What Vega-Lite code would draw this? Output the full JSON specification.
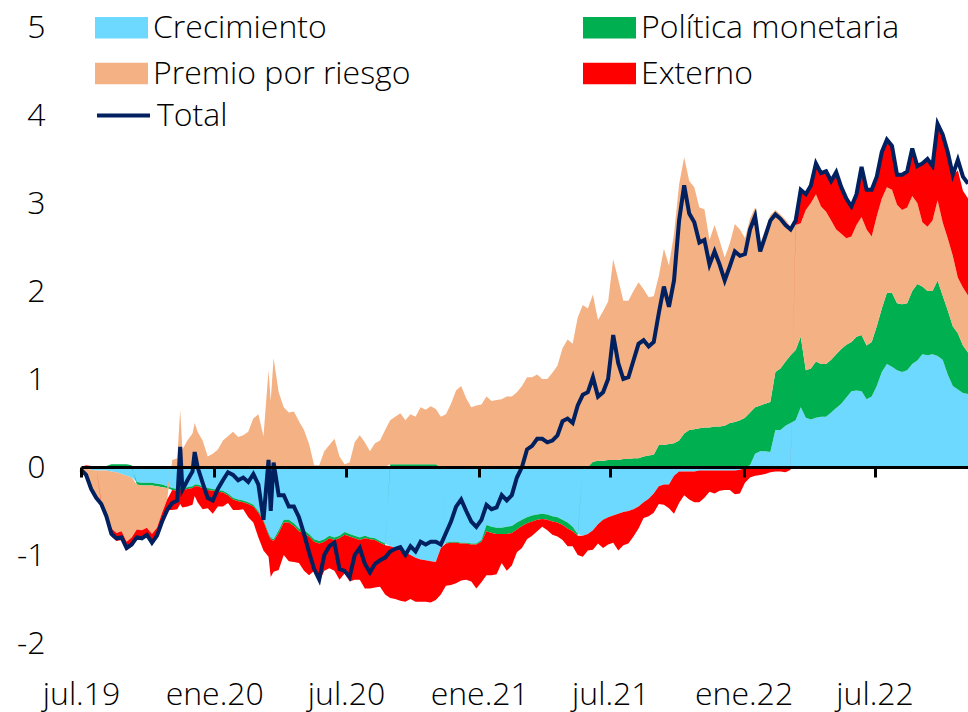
{
  "$schema": "https://vega.github.io/schema/vega-lite/v6.json",
  "width": 887,
  "height": 616,
  "autosize": {"type": "none"},
  "padding": {"left": 81, "top": 27, "right": 0, "bottom": 69},
  "background": "white",
  "config": {"view": {"stroke": null}, "font": "Open Sans"},
  "data": {"values": [
    {"d":"2019-07-01","C":0,"P":0,"R":-0.03,"E":0,"T":-0.03},
    {"d":"2019-07-08","C":-0.02,"P":0,"R":-0.09,"E":0.02,"T":-0.09},
    {"d":"2019-07-15","C":-0.03,"P":0,"R":-0.23,"E":0.01,"T":-0.25},
    {"d":"2019-07-22","C":-0.04,"P":0,"R":-0.31,"E":0,"T":-0.35},
    {"d":"2019-07-29","C":-0.04,"P":0,"R":-0.36,"E":-0.02,"T":-0.42},
    {"d":"2019-08-05","C":-0.04,"P":0.01,"R":-0.47,"E":-0.06,"T":-0.56},
    {"d":"2019-08-12","C":-0.05,"P":0.03,"R":-0.65,"E":-0.09,"T":-0.76},
    {"d":"2019-08-19","C":-0.06,"P":0.03,"R":-0.69,"E":-0.09,"T":-0.81},
    {"d":"2019-08-26","C":-0.08,"P":0.03,"R":-0.65,"E":-0.1,"T":-0.8},
    {"d":"2019-09-02","C":-0.1,"P":0.03,"R":-0.75,"E":-0.1,"T":-0.92},
    {"d":"2019-09-09","C":-0.12,"P":0.02,"R":-0.68,"E":-0.1,"T":-0.88},
    {"d":"2019-09-16","C":-0.17,"P":-0.03,"R":-0.51,"E":-0.09,"T":-0.8},
    {"d":"2019-09-23","C":-0.18,"P":-0.03,"R":-0.51,"E":-0.09,"T":-0.81},
    {"d":"2019-09-30","C":-0.18,"P":-0.03,"R":-0.48,"E":-0.08,"T":-0.77},
    {"d":"2019-10-07","C":-0.18,"P":-0.03,"R":-0.55,"E":-0.1,"T":-0.86},
    {"d":"2019-10-14","C":-0.19,"P":-0.03,"R":-0.47,"E":-0.09,"T":-0.78},
    {"d":"2019-10-21","C":-0.2,"P":-0.03,"R":-0.29,"E":-0.1,"T":-0.62},
    {"d":"2019-10-28","C":-0.22,"P":-0.02,"R":-0.13,"E":-0.12,"T":-0.49},
    {"d":"2019-11-04","C":-0.24,"P":-0.02,"R":0.08,"E":-0.23,"T":-0.41},
    {"d":"2019-11-11","C":-0.25,"P":-0.02,"R":0.1,"E":-0.21,"T":-0.38},
    {"d":"2019-11-15","C":-0.24,"P":-0.02,"R":0.65,"E":-0.16,"T":0.23},
    {"d":"2019-11-18","C":-0.24,"P":-0.02,"R":0.2,"E":-0.2,"T":-0.26},
    {"d":"2019-11-25","C":-0.23,"P":-0.02,"R":0.3,"E":-0.2,"T":-0.15},
    {"d":"2019-12-02","C":-0.22,"P":-0.02,"R":0.38,"E":-0.19,"T":-0.05},
    {"d":"2019-12-05","C":-0.2,"P":-0.02,"R":0.5,"E":-0.11,"T":0.17},
    {"d":"2019-12-09","C":-0.2,"P":-0.02,"R":0.4,"E":-0.18,"T":0},
    {"d":"2019-12-16","C":-0.22,"P":-0.02,"R":0.3,"E":-0.24,"T":-0.18},
    {"d":"2019-12-23","C":-0.24,"P":-0.02,"R":0.12,"E":-0.21,"T":-0.35},
    {"d":"2019-12-30","C":-0.25,"P":-0.02,"R":0.15,"E":-0.26,"T":-0.38},
    {"d":"2020-01-06","C":-0.26,"P":-0.02,"R":0.2,"E":-0.17,"T":-0.25},
    {"d":"2020-01-13","C":-0.27,"P":-0.02,"R":0.3,"E":-0.16,"T":-0.15},
    {"d":"2020-01-20","C":-0.3,"P":-0.02,"R":0.35,"E":-0.09,"T":-0.06},
    {"d":"2020-01-27","C":-0.35,"P":-0.02,"R":0.4,"E":-0.12,"T":-0.09},
    {"d":"2020-02-03","C":-0.37,"P":-0.02,"R":0.34,"E":-0.1,"T":-0.15},
    {"d":"2020-02-10","C":-0.38,"P":-0.02,"R":0.36,"E":-0.08,"T":-0.12},
    {"d":"2020-02-17","C":-0.4,"P":-0.02,"R":0.4,"E":-0.15,"T":-0.17},
    {"d":"2020-02-24","C":-0.43,"P":-0.02,"R":0.55,"E":-0.18,"T":-0.08},
    {"d":"2020-03-02","C":-0.5,"P":-0.02,"R":0.6,"E":-0.28,"T":-0.2},
    {"d":"2020-03-09","C":-0.6,"P":-0.02,"R":0.35,"E":-0.33,"T":-0.6},
    {"d":"2020-03-16","C":-0.75,"P":-0.02,"R":1.1,"E":-0.25,"T":0.08},
    {"d":"2020-03-19","C":-0.8,"P":-0.02,"R":0.75,"E":-0.43,"T":-0.5},
    {"d":"2020-03-23","C":-0.82,"P":-0.02,"R":1.24,"E":-0.35,"T":0.05},
    {"d":"2020-03-30","C":-0.72,"P":-0.03,"R":0.85,"E":-0.42,"T":-0.32},
    {"d":"2020-04-06","C":-0.6,"P":-0.03,"R":0.68,"E":-0.37,"T":-0.32},
    {"d":"2020-04-13","C":-0.6,"P":-0.03,"R":0.62,"E":-0.44,"T":-0.45},
    {"d":"2020-04-20","C":-0.64,"P":-0.03,"R":0.63,"E":-0.41,"T":-0.45},
    {"d":"2020-04-27","C":-0.7,"P":-0.03,"R":0.52,"E":-0.36,"T":-0.57},
    {"d":"2020-05-04","C":-0.72,"P":-0.03,"R":0.42,"E":-0.43,"T":-0.76},
    {"d":"2020-05-11","C":-0.76,"P":-0.03,"R":0.26,"E":-0.44,"T":-0.97},
    {"d":"2020-05-18","C":-0.82,"P":-0.03,"R":0.02,"E":-0.33,"T":-1.16},
    {"d":"2020-05-25","C":-0.84,"P":-0.03,"R":0.02,"E":-0.43,"T":-1.28},
    {"d":"2020-06-01","C":-0.82,"P":-0.03,"R":0.18,"E":-0.33,"T":-1},
    {"d":"2020-06-08","C":-0.78,"P":-0.03,"R":0.25,"E":-0.34,"T":-0.9},
    {"d":"2020-06-15","C":-0.8,"P":-0.03,"R":0.32,"E":-0.35,"T":-0.86},
    {"d":"2020-06-22","C":-0.78,"P":-0.03,"R":0.12,"E":-0.47,"T":-1.16},
    {"d":"2020-06-29","C":-0.74,"P":-0.03,"R":0.03,"E":-0.44,"T":-1.18},
    {"d":"2020-07-06","C":-0.76,"P":-0.03,"R":0.05,"E":-0.51,"T":-1.25},
    {"d":"2020-07-13","C":-0.78,"P":-0.03,"R":0.28,"E":-0.47,"T":-1},
    {"d":"2020-07-20","C":-0.8,"P":-0.03,"R":0.36,"E":-0.45,"T":-0.92},
    {"d":"2020-07-27","C":-0.78,"P":-0.03,"R":0.28,"E":-0.57,"T":-1.1},
    {"d":"2020-08-03","C":-0.8,"P":-0.02,"R":0.18,"E":-0.56,"T":-1.2},
    {"d":"2020-08-10","C":-0.81,"P":-0.02,"R":0.27,"E":-0.54,"T":-1.1},
    {"d":"2020-08-17","C":-0.84,"P":-0.02,"R":0.3,"E":-0.5,"T":-1.06},
    {"d":"2020-08-24","C":-0.87,"P":-0.02,"R":0.42,"E":-0.56,"T":-1.03},
    {"d":"2020-08-31","C":-0.9,"P":0.03,"R":0.5,"E":-0.59,"T":-0.96},
    {"d":"2020-09-07","C":-0.92,"P":0.03,"R":0.54,"E":-0.58,"T":-0.93},
    {"d":"2020-09-14","C":-0.95,"P":0.03,"R":0.58,"E":-0.57,"T":-0.91},
    {"d":"2020-09-21","C":-0.97,"P":0.03,"R":0.5,"E":-0.56,"T":-1},
    {"d":"2020-09-28","C":-1,"P":0.03,"R":0.57,"E":-0.5,"T":-0.9},
    {"d":"2020-10-05","C":-1.03,"P":0.03,"R":0.54,"E":-0.5,"T":-0.96},
    {"d":"2020-10-12","C":-1.05,"P":0.03,"R":0.65,"E":-0.48,"T":-0.85},
    {"d":"2020-10-19","C":-1.06,"P":0.03,"R":0.62,"E":-0.47,"T":-0.88},
    {"d":"2020-10-26","C":-1.07,"P":0.03,"R":0.66,"E":-0.47,"T":-0.85},
    {"d":"2020-11-02","C":-1.08,"P":0.03,"R":0.63,"E":-0.43,"T":-0.85},
    {"d":"2020-11-09","C":-0.92,"P":0,"R":0.57,"E":-0.53,"T":-0.88},
    {"d":"2020-11-16","C":-0.86,"P":-0.01,"R":0.6,"E":-0.48,"T":-0.75},
    {"d":"2020-11-23","C":-0.85,"P":-0.01,"R":0.72,"E":-0.48,"T":-0.62},
    {"d":"2020-11-30","C":-0.85,"P":-0.01,"R":0.87,"E":-0.46,"T":-0.45},
    {"d":"2020-12-07","C":-0.86,"P":-0.01,"R":0.92,"E":-0.42,"T":-0.37},
    {"d":"2020-12-14","C":-0.86,"P":-0.01,"R":0.78,"E":-0.41,"T":-0.5},
    {"d":"2020-12-21","C":-0.87,"P":-0.01,"R":0.68,"E":-0.42,"T":-0.62},
    {"d":"2020-12-28","C":-0.87,"P":-0.01,"R":0.7,"E":-0.5,"T":-0.68},
    {"d":"2021-01-04","C":-0.83,"P":-0.02,"R":0.71,"E":-0.46,"T":-0.6},
    {"d":"2021-01-11","C":-0.66,"P":-0.07,"R":0.8,"E":-0.5,"T":-0.43},
    {"d":"2021-01-18","C":-0.68,"P":-0.07,"R":0.75,"E":-0.48,"T":-0.48},
    {"d":"2021-01-25","C":-0.69,"P":-0.07,"R":0.76,"E":-0.46,"T":-0.46},
    {"d":"2021-02-01","C":-0.69,"P":-0.07,"R":0.77,"E":-0.33,"T":-0.32},
    {"d":"2021-02-08","C":-0.68,"P":-0.08,"R":0.8,"E":-0.42,"T":-0.38},
    {"d":"2021-02-15","C":-0.67,"P":-0.08,"R":0.8,"E":-0.37,"T":-0.32},
    {"d":"2021-02-22","C":-0.63,"P":-0.08,"R":0.85,"E":-0.26,"T":-0.12},
    {"d":"2021-03-01","C":-0.6,"P":-0.07,"R":0.92,"E":-0.25,"T":0},
    {"d":"2021-03-08","C":-0.57,"P":-0.07,"R":1.02,"E":-0.18,"T":0.2},
    {"d":"2021-03-15","C":-0.55,"P":-0.07,"R":1.02,"E":-0.16,"T":0.24},
    {"d":"2021-03-22","C":-0.54,"P":-0.06,"R":1.05,"E":-0.13,"T":0.32},
    {"d":"2021-03-29","C":-0.53,"P":-0.06,"R":1,"E":-0.09,"T":0.32},
    {"d":"2021-04-05","C":-0.54,"P":-0.06,"R":1,"E":-0.12,"T":0.28},
    {"d":"2021-04-12","C":-0.56,"P":-0.06,"R":1.07,"E":-0.15,"T":0.3},
    {"d":"2021-04-19","C":-0.57,"P":-0.06,"R":1.15,"E":-0.16,"T":0.36},
    {"d":"2021-04-26","C":-0.6,"P":-0.06,"R":1.35,"E":-0.17,"T":0.52},
    {"d":"2021-05-03","C":-0.63,"P":-0.07,"R":1.45,"E":-0.2,"T":0.55},
    {"d":"2021-05-10","C":-0.68,"P":-0.05,"R":1.4,"E":-0.17,"T":0.5},
    {"d":"2021-05-17","C":-0.76,"P":-0.02,"R":1.7,"E":-0.22,"T":0.7},
    {"d":"2021-05-24","C":-0.78,"P":0,"R":1.84,"E":-0.24,"T":0.82},
    {"d":"2021-05-31","C":-0.76,"P":0,"R":1.8,"E":-0.19,"T":0.85},
    {"d":"2021-06-07","C":-0.72,"P":0.06,"R":1.9,"E":-0.22,"T":1.02},
    {"d":"2021-06-14","C":-0.65,"P":0.07,"R":1.6,"E":-0.22,"T":0.8},
    {"d":"2021-06-21","C":-0.6,"P":0.07,"R":1.7,"E":-0.32,"T":0.85},
    {"d":"2021-06-28","C":-0.57,"P":0.08,"R":1.8,"E":-0.31,"T":1},
    {"d":"2021-07-05","C":-0.55,"P":0.08,"R":2.28,"E":-0.31,"T":1.5},
    {"d":"2021-07-12","C":-0.53,"P":0.08,"R":2.05,"E":-0.42,"T":1.18},
    {"d":"2021-07-19","C":-0.51,"P":0.09,"R":1.8,"E":-0.38,"T":1},
    {"d":"2021-07-26","C":-0.5,"P":0.09,"R":1.8,"E":-0.37,"T":1.02},
    {"d":"2021-08-02","C":-0.48,"P":0.1,"R":1.9,"E":-0.31,"T":1.21},
    {"d":"2021-08-09","C":-0.45,"P":0.1,"R":2,"E":-0.25,"T":1.4},
    {"d":"2021-08-16","C":-0.4,"P":0.12,"R":1.9,"E":-0.18,"T":1.44},
    {"d":"2021-08-23","C":-0.36,"P":0.13,"R":1.8,"E":-0.2,"T":1.37},
    {"d":"2021-08-30","C":-0.3,"P":0.14,"R":1.8,"E":-0.22,"T":1.42},
    {"d":"2021-09-06","C":-0.22,"P":0.25,"R":1.92,"E":-0.2,"T":1.75},
    {"d":"2021-09-13","C":-0.2,"P":0.25,"R":2.23,"E":-0.23,"T":2.05},
    {"d":"2021-09-20","C":-0.2,"P":0.26,"R":2.03,"E":-0.27,"T":1.82},
    {"d":"2021-09-27","C":-0.1,"P":0.27,"R":2.38,"E":-0.43,"T":2.12},
    {"d":"2021-10-04","C":-0.05,"P":0.3,"R":2.91,"E":-0.36,"T":2.8},
    {"d":"2021-10-11","C":-0.05,"P":0.38,"R":3.14,"E":-0.27,"T":3.2},
    {"d":"2021-10-18","C":-0.05,"P":0.42,"R":2.83,"E":-0.32,"T":2.88},
    {"d":"2021-10-25","C":-0.05,"P":0.43,"R":2.75,"E":-0.35,"T":2.78},
    {"d":"2021-11-01","C":-0.04,"P":0.44,"R":2.51,"E":-0.36,"T":2.55},
    {"d":"2021-11-08","C":-0.04,"P":0.45,"R":2.48,"E":-0.31,"T":2.58},
    {"d":"2021-11-15","C":-0.04,"P":0.45,"R":2.13,"E":-0.24,"T":2.3},
    {"d":"2021-11-22","C":-0.04,"P":0.46,"R":2.29,"E":-0.26,"T":2.45},
    {"d":"2021-11-29","C":-0.04,"P":0.46,"R":2.11,"E":-0.23,"T":2.3},
    {"d":"2021-12-06","C":-0.04,"P":0.47,"R":1.91,"E":-0.22,"T":2.12},
    {"d":"2021-12-13","C":-0.04,"P":0.5,"R":2.04,"E":-0.22,"T":2.28},
    {"d":"2021-12-20","C":-0.04,"P":0.51,"R":2.25,"E":-0.27,"T":2.45},
    {"d":"2021-12-27","C":-0.03,"P":0.53,"R":2.17,"E":-0.27,"T":2.4},
    {"d":"2022-01-03","C":-0.01,"P":0.56,"R":2.04,"E":-0.17,"T":2.42},
    {"d":"2022-01-10","C":0.02,"P":0.6,"R":2.2,"E":-0.12,"T":2.7},
    {"d":"2022-01-17","C":0.15,"P":0.53,"R":2.27,"E":-0.1,"T":2.85},
    {"d":"2022-01-24","C":0.18,"P":0.52,"R":1.84,"E":-0.09,"T":2.45},
    {"d":"2022-01-31","C":0.18,"P":0.54,"R":1.98,"E":-0.08,"T":2.62},
    {"d":"2022-02-07","C":0.17,"P":0.57,"R":2.12,"E":-0.06,"T":2.8},
    {"d":"2022-02-14","C":0.42,"P":0.66,"R":1.84,"E":-0.05,"T":2.87},
    {"d":"2022-02-21","C":0.42,"P":0.7,"R":1.75,"E":-0.05,"T":2.82},
    {"d":"2022-02-28","C":0.47,"P":0.73,"R":1.61,"E":-0.06,"T":2.75},
    {"d":"2022-03-07","C":0.5,"P":0.77,"R":1.46,"E":-0.03,"T":2.7},
    {"d":"2022-03-14","C":0.53,"P":0.8,"R":1.42,"E":0.05,"T":2.8},
    {"d":"2022-03-21","C":0.68,"P":0.8,"R":1.29,"E":0.38,"T":3.15},
    {"d":"2022-03-28","C":0.56,"P":0.54,"R":1.82,"E":0.18,"T":3.1},
    {"d":"2022-04-04","C":0.54,"P":0.58,"R":1.88,"E":0.2,"T":3.2},
    {"d":"2022-04-11","C":0.56,"P":0.64,"R":1.9,"E":0.35,"T":3.45},
    {"d":"2022-04-18","C":0.57,"P":0.6,"R":1.79,"E":0.38,"T":3.34},
    {"d":"2022-04-25","C":0.57,"P":0.6,"R":1.73,"E":0.46,"T":3.36},
    {"d":"2022-05-02","C":0.62,"P":0.6,"R":1.58,"E":0.45,"T":3.25},
    {"d":"2022-05-09","C":0.67,"P":0.61,"R":1.42,"E":0.65,"T":3.35},
    {"d":"2022-05-16","C":0.72,"P":0.62,"R":1.31,"E":0.53,"T":3.18},
    {"d":"2022-05-23","C":0.79,"P":0.6,"R":1.21,"E":0.45,"T":3.05},
    {"d":"2022-05-30","C":0.86,"P":0.56,"R":1.2,"E":0.34,"T":2.96},
    {"d":"2022-06-06","C":0.87,"P":0.61,"R":1.27,"E":0.35,"T":3.1},
    {"d":"2022-06-13","C":0.86,"P":0.64,"R":1.34,"E":0.57,"T":3.41},
    {"d":"2022-06-20","C":0.77,"P":0.61,"R":1.32,"E":0.45,"T":3.15},
    {"d":"2022-06-27","C":0.8,"P":0.62,"R":1.2,"E":0.53,"T":3.15},
    {"d":"2022-07-04","C":0.92,"P":0.68,"R":1.25,"E":0.45,"T":3.3},
    {"d":"2022-07-11","C":1.08,"P":0.72,"R":1.25,"E":0.53,"T":3.58},
    {"d":"2022-07-18","C":1.17,"P":0.81,"R":1.2,"E":0.54,"T":3.72},
    {"d":"2022-07-25","C":1.14,"P":0.84,"R":1.17,"E":0.5,"T":3.65},
    {"d":"2022-08-01","C":1.1,"P":0.76,"R":1.12,"E":0.34,"T":3.32},
    {"d":"2022-08-08","C":1.08,"P":0.77,"R":1.07,"E":0.4,"T":3.32},
    {"d":"2022-08-15","C":1.1,"P":0.76,"R":1.09,"E":0.41,"T":3.36},
    {"d":"2022-08-22","C":1.17,"P":0.83,"R":1.08,"E":0.54,"T":3.62},
    {"d":"2022-08-29","C":1.21,"P":0.87,"R":0.92,"E":0.42,"T":3.42},
    {"d":"2022-09-05","C":1.28,"P":0.77,"R":0.73,"E":0.67,"T":3.45},
    {"d":"2022-09-12","C":1.27,"P":0.73,"R":0.73,"E":0.77,"T":3.5},
    {"d":"2022-09-19","C":1.28,"P":0.72,"R":0.8,"E":0.62,"T":3.42},
    {"d":"2022-09-26","C":1.26,"P":0.86,"R":0.91,"E":0.87,"T":3.9},
    {"d":"2022-10-03","C":1.22,"P":0.73,"R":0.83,"E":1,"T":3.78},
    {"d":"2022-10-10","C":1.05,"P":0.73,"R":0.82,"E":0.98,"T":3.58},
    {"d":"2022-10-17","C":0.92,"P":0.68,"R":0.8,"E":0.92,"T":3.32},
    {"d":"2022-10-24","C":0.88,"P":0.64,"R":0.63,"E":1.22,"T":3.49},
    {"d":"2022-10-31","C":0.84,"P":0.54,"R":0.66,"E":1.1,"T":3.3},
    {"d":"2022-11-07","C":0.83,"P":0.47,"R":0.65,"E":1.1,"T":3.22}
  ]},
  "layer": [
    {
      "transform": [
        {"fold": ["C", "P", "R", "E"], "as": ["k", "v"]},
        {"lookup": "k", "from": {"data": {"values": [
          {"k": "C", "serie": "Crecimiento", "ord": 1},
          {"k": "P", "serie": "Política monetaria", "ord": 2},
          {"k": "R", "serie": "Premio por riesgo", "ord": 3},
          {"k": "E", "serie": "Externo", "ord": 4}
        ]}, "key": "k", "fields": ["serie", "ord"]}}
      ],
      "mark": {"type": "area", "interpolate": "linear"},
      "encoding": {
        "x": {
          "field": "d", "type": "temporal",
          "scale": {"type": "utc", "domain": [{"year": 2019, "month": 7, "date": 1, "utc": true}, {"year": 2022, "month": 11, "date": 7, "utc": true}]},
          "axis": {
            "values": [
              {"year": 2019, "month": 7, "date": 1, "utc": true},
              {"year": 2020, "month": 1, "date": 1, "utc": true},
              {"year": 2020, "month": 7, "date": 1, "utc": true},
              {"year": 2021, "month": 1, "date": 1, "utc": true},
              {"year": 2021, "month": 7, "date": 1, "utc": true},
              {"year": 2022, "month": 1, "date": 1, "utc": true},
              {"year": 2022, "month": 7, "date": 1, "utc": true}
            ],
            "labelExpr": "['ene','feb','mar','abr','may','jun','jul','ago','sep','oct','nov','dic'][utcmonth(datum.value)] + '.' + utcFormat(datum.value, '%y')",
            "title": null,
            "grid": false,
            "offset": -176,
            "zindex": 1,
            "domainColor": "#000000",
            "domainWidth": 3,
            "tickColor": "#000000",
            "tickWidth": 3,
            "tickSize": 10,
            "labelPadding": 227,
            "labelBaseline": "alphabetic",
            "labelFont": "Open Sans",
            "labelFontWeight": 300,
            "labelFontSize": 32,
            "labelColor": "#000000",
            "labelFlush": false,
            "labelOverlap": false
          }
        },
        "y": {
          "field": "v", "type": "quantitative", "stack": "zero",
          "scale": {"domain": [-2, 5], "nice": false, "zero": false},
          "axis": {
            "values": [-2, -1, 0, 1, 2, 3, 4, 5],
            "labelExpr": "datum.value < 0 ? '-' + abs(datum.value) : '' + datum.value",
            "title": null,
            "grid": false,
            "domain": false,
            "ticks": false,
            "tickSize": 0,
            "labelPadding": 36,
            "labelFont": "Open Sans",
            "labelFontWeight": 300,
            "labelFontSize": 32,
            "labelColor": "#000000"
          }
        },
        "color": {
          "field": "serie", "type": "nominal",
          "scale": {"domain": ["Crecimiento", "Premio por riesgo", "Política monetaria", "Externo"], "range": ["#6DD9FF", "#F4B183", "#00B050", "#FF0000"]},
          "legend": {
            "title": null,
            "orient": "none",
            "legendX": 14,
            "legendY": -26,
            "columns": 2,
            "columnPadding": 172,
            "rowPadding": 3,
            "padding": 0,
            "symbolType": "M-1,-0.41H1V0.41H-1Z",
            "symbolSize": 2809,
            "symbolStrokeWidth": 0,
            "symbolOpacity": 1,
            "labelOffset": 5,
            "labelFont": "Open Sans",
            "labelFontWeight": 300,
            "labelFontSize": 32,
            "labelColor": "#000000",
            "labelLimit": 500
          }
        },
        "order": {"field": "ord", "type": "quantitative", "sort": "ascending"}
      }
    },
    {
      "mark": {"type": "line", "strokeWidth": 4, "interpolate": "linear"},
      "encoding": {
        "x": {"field": "d", "type": "temporal"},
        "y": {"field": "T", "type": "quantitative"},
        "stroke": {
          "datum": "Total", "type": "nominal",
          "scale": {"range": ["#002060"]},
          "legend": {
            "title": null,
            "orient": "none",
            "legendX": 14,
            "legendY": 60,
            "padding": 0,
            "symbolType": "stroke",
            "symbolSize": 2809,
            "symbolStrokeWidth": 4,
            "labelOffset": 5,
            "labelFont": "Open Sans",
            "labelFontWeight": 300,
            "labelFontSize": 32,
            "labelColor": "#000000"
          }
        }
      }
    }
  ]
}
